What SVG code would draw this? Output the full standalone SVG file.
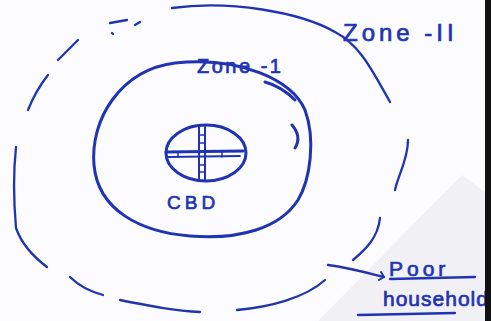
<svg xmlns="http://www.w3.org/2000/svg" width="491" height="321" viewBox="0 0 491 321">
<style>
.ink{fill:none;stroke:#1f33b3;stroke-linecap:round;stroke-linejoin:round}
.t{fill:#1f33b3;stroke:#1f33b3;stroke-width:0.7;font-family:"Liberation Sans",Arial,sans-serif}
</style>
<rect width="491" height="321" fill="#fcfcfe"/>
<polygon points="462,175 485,192 485,321 318,321" fill="#f1f1f5"/>
<g id="outer-zone-II" class="ink" stroke-width="2.3">
<path d="M172,8 C230,0 300,12 335,32 C360,45 372,70 390,102"/>
<path d="M110,23 L127,20"/>
<path d="M135,25 L140,22"/>
<path d="M112,33 L113,34"/>
<path d="M58,60 L78,40"/>
<path d="M28,110 C34,95 40,85 48,75"/>
<path d="M16,147 C13,175 14,205 16,228 C22,245 35,258 47,267"/>
<path d="M70,277 C80,287 92,292 103,295"/>
<path d="M120,300 C150,306 175,311 200,312"/>
<path d="M237,310 C270,307 305,298 325,280"/>
<path d="M408,140 C408,160 398,175 395,190"/>
<path d="M380,218 C378,238 365,250 353,260"/>
</g>
<g id="inner-zone-I" class="ink" stroke-width="3">
<path d="M175,63 C240,56 292,80 305,110 C316,140 310,180 298,200 C280,228 240,240 190,236 C140,232 98,210 94,165 C90,120 120,70 175,63 Z"/>
<path d="M265,82 C280,86 290,95 295,100"/>
<path d="M292,125 C298,132 300,140 295,148"/>
</g>
<g id="cbd" class="ink" stroke-width="3">
<ellipse cx="206" cy="153" rx="40" ry="28"/>
<path d="M166,152 L243,151"/>
<path d="M168,157 L240,156" stroke-width="1.8"/>
<path d="M199,126 L199,181 M205,127 L205,180" stroke-width="2"/>
<path d="M199,135 L205,135 M199,143 L205,143 M199,165 L205,165 M199,172 L205,172 M178,152 L178,157 M222,152 L222,157" stroke-width="1.5"/>
</g>
<text class="t" x="167" y="209" font-size="19" letter-spacing="4">CBD</text>
<text class="t" x="197" y="73" font-size="20" letter-spacing="2.5">Zone -1</text>
<text class="t" x="343" y="41" font-size="24" letter-spacing="4">Zone -II</text>
<g id="connectors" class="ink" stroke-width="2.3">
<path d="M328,265 C350,268 368,273 384,277"/>
<path d="M384,277 L381,272 M384,277 L379,280" stroke-width="2"/>
<path d="M390,279 L475,277"/>
<path d="M358,315 L455,313"/>
</g>
<g id="label-poor">
<text class="t" x="389" y="276" font-size="21" letter-spacing="4">Poor</text>
<text class="t" x="383" y="306" font-size="21" letter-spacing="1">household</text>
</g>
<rect x="485" y="0" width="6" height="321" fill="#111"/>
</svg>
